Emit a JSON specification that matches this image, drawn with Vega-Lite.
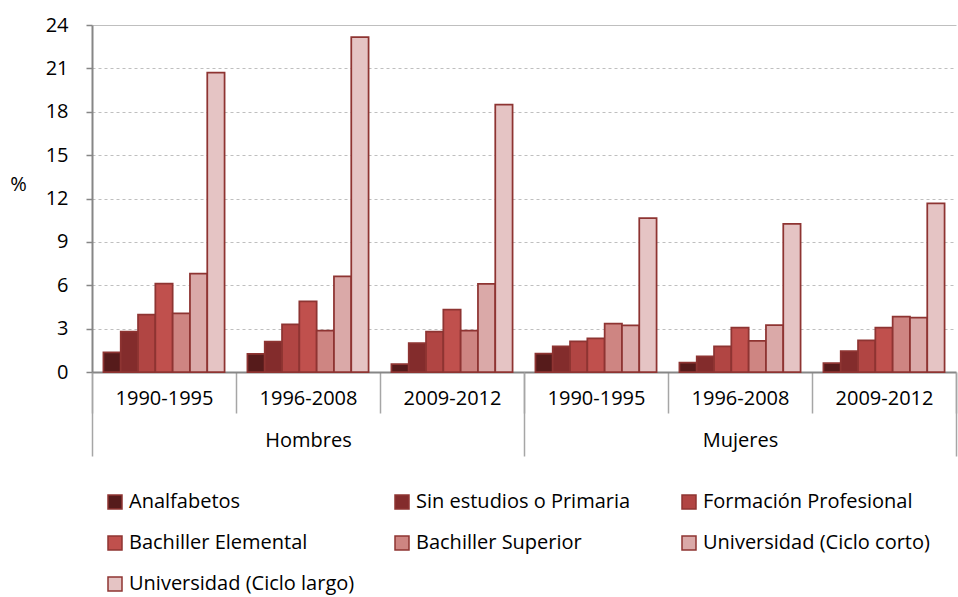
{
  "$schema": "https://vega.github.io/schema/vega-lite/v6.json",
  "width": 864,
  "height": 347,
  "autosize": {"type": "none"},
  "padding": {"left": 92, "top": 25, "right": 2, "bottom": 225},
  "background": "white",
  "config": {"font": "Open Sans", "view": {"stroke": null}},
  "data": {"values": [
    {"sexo": "Hombres", "periodo": "1990-1995", "grupo": "Hombres|1990-1995", "nivel": "Analfabetos", "valor": 1.36},
    {"sexo": "Hombres", "periodo": "1990-1995", "grupo": "Hombres|1990-1995", "nivel": "Sin estudios o Primaria", "valor": 2.79},
    {"sexo": "Hombres", "periodo": "1990-1995", "grupo": "Hombres|1990-1995", "nivel": "Formación Profesional", "valor": 3.97},
    {"sexo": "Hombres", "periodo": "1990-1995", "grupo": "Hombres|1990-1995", "nivel": "Bachiller Elemental", "valor": 6.11},
    {"sexo": "Hombres", "periodo": "1990-1995", "grupo": "Hombres|1990-1995", "nivel": "Bachiller Superior", "valor": 4.06},
    {"sexo": "Hombres", "periodo": "1990-1995", "grupo": "Hombres|1990-1995", "nivel": "Universidad (Ciclo corto)", "valor": 6.81},
    {"sexo": "Hombres", "periodo": "1990-1995", "grupo": "Hombres|1990-1995", "nivel": "Universidad (Ciclo largo)", "valor": 20.7},
    {"sexo": "Hombres", "periodo": "1996-2008", "grupo": "Hombres|1996-2008", "nivel": "Analfabetos", "valor": 1.25},
    {"sexo": "Hombres", "periodo": "1996-2008", "grupo": "Hombres|1996-2008", "nivel": "Sin estudios o Primaria", "valor": 2.1},
    {"sexo": "Hombres", "periodo": "1996-2008", "grupo": "Hombres|1996-2008", "nivel": "Formación Profesional", "valor": 3.3},
    {"sexo": "Hombres", "periodo": "1996-2008", "grupo": "Hombres|1996-2008", "nivel": "Bachiller Elemental", "valor": 4.89},
    {"sexo": "Hombres", "periodo": "1996-2008", "grupo": "Hombres|1996-2008", "nivel": "Bachiller Superior", "valor": 2.86},
    {"sexo": "Hombres", "periodo": "1996-2008", "grupo": "Hombres|1996-2008", "nivel": "Universidad (Ciclo corto)", "valor": 6.62},
    {"sexo": "Hombres", "periodo": "1996-2008", "grupo": "Hombres|1996-2008", "nivel": "Universidad (Ciclo largo)", "valor": 23.17},
    {"sexo": "Hombres", "periodo": "2009-2012", "grupo": "Hombres|2009-2012", "nivel": "Analfabetos", "valor": 0.55},
    {"sexo": "Hombres", "periodo": "2009-2012", "grupo": "Hombres|2009-2012", "nivel": "Sin estudios o Primaria", "valor": 2.0},
    {"sexo": "Hombres", "periodo": "2009-2012", "grupo": "Hombres|2009-2012", "nivel": "Formación Profesional", "valor": 2.79},
    {"sexo": "Hombres", "periodo": "2009-2012", "grupo": "Hombres|2009-2012", "nivel": "Bachiller Elemental", "valor": 4.31},
    {"sexo": "Hombres", "periodo": "2009-2012", "grupo": "Hombres|2009-2012", "nivel": "Bachiller Superior", "valor": 2.86},
    {"sexo": "Hombres", "periodo": "2009-2012", "grupo": "Hombres|2009-2012", "nivel": "Universidad (Ciclo corto)", "valor": 6.09},
    {"sexo": "Hombres", "periodo": "2009-2012", "grupo": "Hombres|2009-2012", "nivel": "Universidad (Ciclo largo)", "valor": 18.49},
    {"sexo": "Mujeres", "periodo": "1990-1995", "grupo": "Mujeres|1990-1995", "nivel": "Analfabetos", "valor": 1.27},
    {"sexo": "Mujeres", "periodo": "1990-1995", "grupo": "Mujeres|1990-1995", "nivel": "Sin estudios o Primaria", "valor": 1.77},
    {"sexo": "Mujeres", "periodo": "1990-1995", "grupo": "Mujeres|1990-1995", "nivel": "Formación Profesional", "valor": 2.12},
    {"sexo": "Mujeres", "periodo": "1990-1995", "grupo": "Mujeres|1990-1995", "nivel": "Bachiller Elemental", "valor": 2.33},
    {"sexo": "Mujeres", "periodo": "1990-1995", "grupo": "Mujeres|1990-1995", "nivel": "Bachiller Superior", "valor": 3.34},
    {"sexo": "Mujeres", "periodo": "1990-1995", "grupo": "Mujeres|1990-1995", "nivel": "Universidad (Ciclo corto)", "valor": 3.23},
    {"sexo": "Mujeres", "periodo": "1990-1995", "grupo": "Mujeres|1990-1995", "nivel": "Universidad (Ciclo largo)", "valor": 10.64},
    {"sexo": "Mujeres", "periodo": "1996-2008", "grupo": "Mujeres|1996-2008", "nivel": "Analfabetos", "valor": 0.64},
    {"sexo": "Mujeres", "periodo": "1996-2008", "grupo": "Mujeres|1996-2008", "nivel": "Sin estudios o Primaria", "valor": 1.08},
    {"sexo": "Mujeres", "periodo": "1996-2008", "grupo": "Mujeres|1996-2008", "nivel": "Formación Profesional", "valor": 1.77},
    {"sexo": "Mujeres", "periodo": "1996-2008", "grupo": "Mujeres|1996-2008", "nivel": "Bachiller Elemental", "valor": 3.07},
    {"sexo": "Mujeres", "periodo": "1996-2008", "grupo": "Mujeres|1996-2008", "nivel": "Bachiller Superior", "valor": 2.15},
    {"sexo": "Mujeres", "periodo": "1996-2008", "grupo": "Mujeres|1996-2008", "nivel": "Universidad (Ciclo corto)", "valor": 3.25},
    {"sexo": "Mujeres", "periodo": "1996-2008", "grupo": "Mujeres|1996-2008", "nivel": "Universidad (Ciclo largo)", "valor": 10.25},
    {"sexo": "Mujeres", "periodo": "2009-2012", "grupo": "Mujeres|2009-2012", "nivel": "Analfabetos", "valor": 0.62},
    {"sexo": "Mujeres", "periodo": "2009-2012", "grupo": "Mujeres|2009-2012", "nivel": "Sin estudios o Primaria", "valor": 1.45},
    {"sexo": "Mujeres", "periodo": "2009-2012", "grupo": "Mujeres|2009-2012", "nivel": "Formación Profesional", "valor": 2.19},
    {"sexo": "Mujeres", "periodo": "2009-2012", "grupo": "Mujeres|2009-2012", "nivel": "Bachiller Elemental", "valor": 3.07},
    {"sexo": "Mujeres", "periodo": "2009-2012", "grupo": "Mujeres|2009-2012", "nivel": "Bachiller Superior", "valor": 3.83},
    {"sexo": "Mujeres", "periodo": "2009-2012", "grupo": "Mujeres|2009-2012", "nivel": "Universidad (Ciclo corto)", "valor": 3.76},
    {"sexo": "Mujeres", "periodo": "2009-2012", "grupo": "Mujeres|2009-2012", "nivel": "Universidad (Ciclo largo)", "valor": 11.66}
  ]},
  "layer": [
    {
      "mark": {"type": "bar", "stroke": "#8e3432", "strokeWidth": 1.75},
      "encoding": {
        "x": {
          "field": "grupo", "type": "nominal",
          "sort": ["Hombres|1990-1995", "Hombres|1996-2008", "Hombres|2009-2012", "Mujeres|1990-1995", "Mujeres|1996-2008", "Mujeres|2009-2012"],
          "scale": {"paddingInner": 0, "paddingOuter": 0},
          "axis": {
            "title": null, "orient": "bottom", "tickBand": "extent", "tickSize": 41,
            "tickColor": "#a6a6a6", "tickWidth": 1.5, "domainColor": "#868686", "domainWidth": 2,
            "labelExpr": "slice(datum.label, -9)", "labelAngle": 0, "labelFontSize": 20,
            "labelColor": "#000000", "labelBaseline": "middle", "labelPadding": -15, "labelFont": "Open Sans"
          }
        },
        "xOffset": {
          "field": "nivel", "type": "nominal",
          "sort": ["Analfabetos", "Sin estudios o Primaria", "Formación Profesional", "Bachiller Elemental", "Bachiller Superior", "Universidad (Ciclo corto)", "Universidad (Ciclo largo)"],
          "scale": {"paddingInner": 0, "paddingOuter": 0.66}
        },
        "y": {
          "field": "valor", "type": "quantitative",
          "scale": {"domain": [0, 24], "nice": false},
          "axis": {
            "values": [0, 3, 6, 9, 12, 15, 18, 21, 24],
            "title": "%", "titleAngle": 0, "titleX": -74, "titleY": 159, "titleAlign": "center",
            "titleBaseline": "middle", "titleFontSize": 20, "titleFontWeight": "normal", "titleColor": "#000000",
            "titleFont": "Open Sans",
            "grid": true, "gridColor": "#bfbfbf", "gridWidth": 1,
            "gridDash": {"condition": {"test": "datum.value == 24", "value": []}, "value": [3, 3]},
            "domainColor": "#868686", "domainWidth": 2,
            "tickSize": 6, "tickColor": "#868686", "tickWidth": 1.5,
            "labelPadding": 18, "labelFontSize": 20, "labelColor": "#000000", "labelFont": "Open Sans"
          }
        },
        "color": {
          "field": "nivel", "type": "nominal",
          "scale": {
            "domain": ["Analfabetos", "Sin estudios o Primaria", "Formación Profesional", "Bachiller Elemental", "Bachiller Superior", "Universidad (Ciclo corto)", "Universidad (Ciclo largo)"],
            "range": ["#561b1b", "#832c2c", "#b14543", "#c0504d", "#ce8582", "#daa9a8", "#e5c4c4"]
          },
          "legend": {
            "title": null, "orient": "none", "legendX": 13, "legendY": 467,
            "direction": "horizontal", "columns": 3, "gridAlign": "all",
            "columnPadding": 36, "rowPadding": 21,
            "symbolType": "square", "symbolSize": 196, "symbolStrokeColor": "#8e3432", "symbolStrokeWidth": 1.5,
            "labelFontSize": 20, "labelColor": "#000000", "labelLimit": 400, "labelOffset": 4, "labelFont": "Open Sans"
          }
        }
      }
    },
    {
      "mark": {"type": "rule", "opacity": 0},
      "encoding": {
        "x": {
          "field": "sexo", "type": "nominal", "sort": ["Hombres", "Mujeres"],
          "scale": {"paddingInner": 0, "paddingOuter": 0},
          "axis": {
            "title": null, "orient": "bottom", "tickBand": "extent", "tickSize": 84,
            "tickColor": "#a6a6a6", "tickWidth": 1.5, "domain": false,
            "labelAngle": 0, "labelFontSize": 20, "labelColor": "#000000", "labelBaseline": "middle",
            "labelPadding": -16, "labelFont": "Open Sans"
          }
        }
      }
    }
  ],
  "resolve": {"scale": {"x": "independent"}, "axis": {"x": "independent"}}
}
